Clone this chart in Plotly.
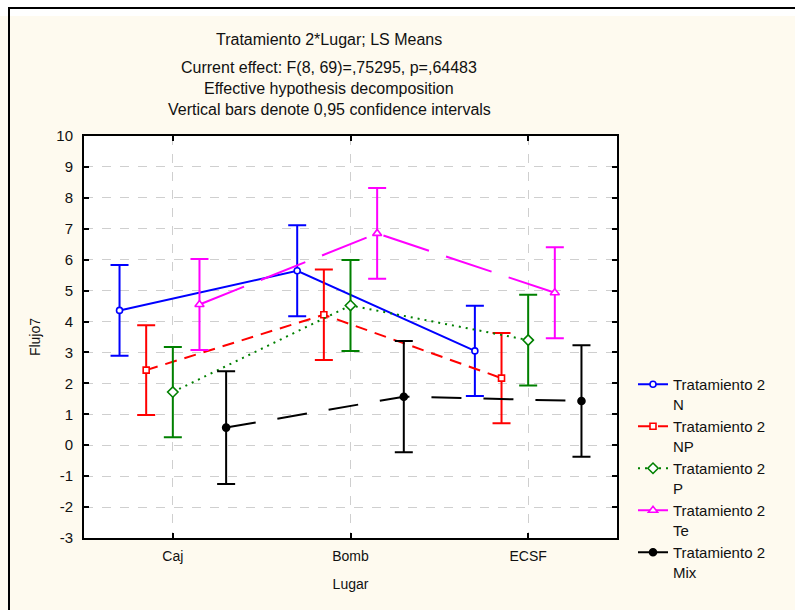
import plotly.graph_objects as go

# ---------------- data ----------------
lugares = ["Caj", "Bomb", "ECSF"]
series_names = ["Tratamiento 2<br>N", "Tratamiento 2<br>NP", "Tratamiento 2<br>P",
                "Tratamiento 2<br>Te", "Tratamiento 2<br>Mix"]
mean_N = [4.36, 5.64, 3.05]
mean_NP = [2.43, 4.22, 2.17]
mean_P = [1.72, 4.52, 3.40]
mean_Te = [4.55, 6.85, 4.93]
mean_Mix = [0.57, 1.57, 1.43]
ci_N = [1.47, 1.47, 1.46]
ci_NP = [1.45, 1.46, 1.46]
ci_P = [1.46, 1.47, 1.47]
ci_Te = [1.47, 1.47, 1.47]
ci_Mix = [1.82, 1.80, 1.80]
y_ticks = list(range(-3, 11))
y_ticktext = [str(v) for v in y_ticks]

means = [mean_N, mean_NP, mean_P, mean_Te, mean_Mix]
cis = [ci_N, ci_NP, ci_P, ci_Te, ci_Mix]

# ---------------- style ----------------
colors = ["#0000FF", "#FF0000", "#008000", "#FF00FF", "#000000"]
dashes = ["solid", "12px,8px", "2px,5px", "48px,18px", "30px,22px"]
symbols = ["circle", "square", "diamond", "triangle-up", "circle"]
msizes = [6, 6, 8, 8, 7]
fills = ["white", "white", "white", "white", "#000000"]

W, H = 795, 610
L, R, T, B = 84, 617, 136, 538
def px(x):
    return (x - L) / (R - L)
def py(y):
    return (B - y) / (B - T)

fig = go.Figure()
for name, m, ci, c, d, s, ms, f in zip(series_names, means, cis, colors, dashes, symbols, msizes, fills):
    fig.add_trace(go.Scatter(
        x=lugares, y=m, name=name, mode="lines+markers",
        line=dict(color=c, width=2, dash=d),
        marker=dict(symbol=s, size=ms, color=f, line=dict(color=c, width=1.6)),
        error_y=dict(type="data", array=ci, visible=True, color=c, thickness=2, width=9),
    ))

font_main = "Liberation Sans Narrow, Arial Narrow, Liberation Sans, Arial, sans-serif"
font_ax = "Liberation Sans, Arial, sans-serif"

fig.update_layout(
    width=W, height=H,
    margin=dict(l=L, r=W - R, t=T, b=H - B, pad=0),
    paper_bgcolor="#FEFAEF", plot_bgcolor="white",
    scattermode="group", scattergap=0.25,
    showlegend=True,
    legend=dict(x=px(633), y=py(368), xanchor="left", yanchor="top",
                font=dict(family=font_ax, size=15, color="#111"),
                bgcolor="rgba(0,0,0,0)", valign="top", tracegroupgap=0,
                itemwidth=30),
    font=dict(family=font_ax, size=14, color="#111"),
)
fig.update_xaxes(
    type="category", range=[-0.5, 2.5],
    showline=True, linewidth=2, linecolor="black", mirror="ticks",
    ticks="inside", ticklen=5, tickwidth=2, tickcolor="black",
    showgrid=True, gridcolor="#CFCFCF", griddash="dash", gridwidth=1,
    tickfont=dict(family=font_ax, size=14, color="#111"),
    title=dict(text="Lugar", font=dict(family=font_ax, size=14, color="#111"), standoff=16),
    zeroline=False, ticklabelstandoff=4,
)
fig.update_yaxes(
    range=[-3, 10], tickvals=y_ticks, ticktext=y_ticktext,
    showline=True, linewidth=2, linecolor="black", mirror="ticks",
    ticks="inside", ticklen=5, tickwidth=2, tickcolor="black",
    showgrid=True, gridcolor="#CFCFCF", griddash="dash", gridwidth=1,
    tickfont=dict(family=font_ax, size=15, color="#111"),
    title=dict(text="Flujo7", font=dict(family=font_ax, size=14, color="#111"), standoff=12),
    zeroline=False, ticklabelstandoff=6,
)

titles = [("Tratamiento 2*Lugar; LS Means", 40),
          ("Current effect: F(8, 69)=,75295, p=,64483", 67),
          ("Effective hypothesis decomposition", 89),
          ("Vertical bars denote 0,95 confidence intervals", 110)]
for txt, yy in titles:
    fig.add_annotation(text=txt, x=px(329), y=py(yy), xref="paper", yref="paper",
                       xanchor="center", yanchor="middle", showarrow=False,
                       font=dict(family=font_main, size=16, color="#111"))

# frame: white band on top and black border lines
fig.add_shape(type="rect", xref="paper", yref="paper", x0=px(-5), x1=px(800), y0=py(16), y1=py(-5),
              fillcolor="white", line=dict(width=0), layer="below")
fig.add_shape(type="line", xref="paper", yref="paper", x0=px(8), x1=px(800), y0=py(8), y1=py(8),
              line=dict(color="black", width=2))
fig.add_shape(type="line", xref="paper", yref="paper", x0=px(9), x1=px(9), y0=py(8), y1=py(620),
              line=dict(color="black", width=2))

fig.write_html("out.html")
